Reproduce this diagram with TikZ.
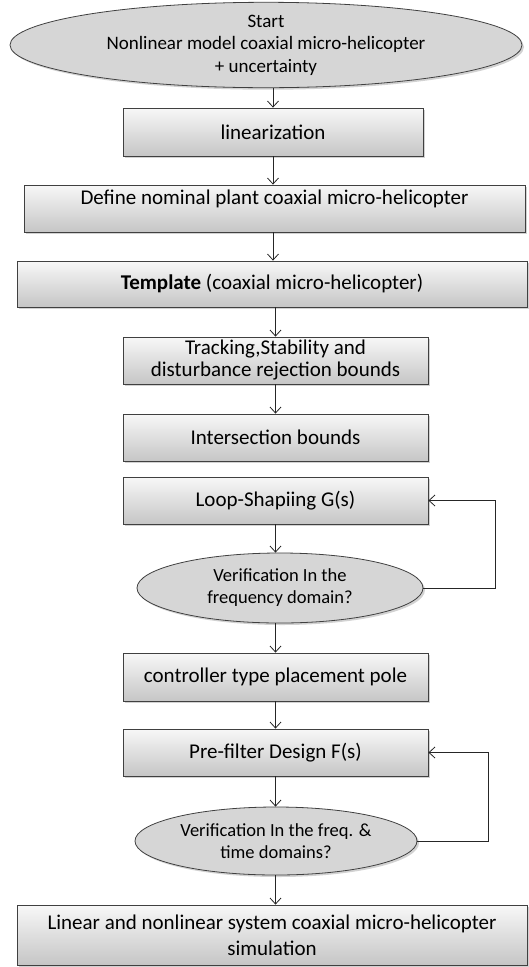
\documentclass[tikz,border=0pt]{standalone}
\usepackage{fontspec}
\setmainfont{Carlito}
\usetikzlibrary{shapes.geometric,arrows.meta,shadows}
\begin{document}
\begin{tikzpicture}[x=1pt,y=-1pt,
  boxstyle/.style={draw=black!75,line width=0.8pt,rectangle,inner sep=2pt,
    top color=gray!6,bottom color=gray!45,
    drop shadow={shadow xshift=2pt,shadow yshift=-2pt,fill=black!35},
    font=\fontsize{21}{24}\selectfont,align=center},
  ellstyle/.style={draw=black!75,line width=0.8pt,ellipse,inner sep=0pt,
    fill=gray!32,
    drop shadow={shadow xshift=2pt,shadow yshift=-2pt,fill=black!35},
    align=center},
  arr/.style={draw=black!85,line width=0.8pt,-{Straight Barb[length=6pt,width=11pt]}}]
\useasboundingbox (0,0) rectangle (529,967);

\node[ellstyle,minimum width=512pt,minimum height=72pt,font=\fontsize{19}{22.5}\selectfont] (start) at (266,45)
  {Start\\Nonlinear model coaxial micro-helicopter\\+ uncertainty};
\node[boxstyle,minimum width=300pt,minimum height=48pt] (lin) at (273,132) {linearization};
\node[boxstyle,minimum width=501pt,minimum height=47pt,text height=14pt,text depth=22pt] (def) at (274.5,208.5)
  {Define nominal plant coaxial micro-helicopter};
\node[boxstyle,minimum width=510pt,minimum height=46pt] (tmpl) at (272,284)
  {\textbf{Template} (coaxial micro-helicopter)};
\node[boxstyle,minimum width=305pt,minimum height=47pt,font=\fontsize{21}{22}\selectfont] (track) at (275.5,360.5)
  {Tracking,Stability and\\disturbance rejection bounds};
\node[boxstyle,minimum width=305pt,minimum height=47pt] (inter) at (275.5,437.5) {Intersection bounds};
\node[boxstyle,minimum width=305pt,minimum height=47pt] (loop) at (275.5,500.5) {Loop-Shapiing G(s)};
\node[ellstyle,minimum width=286pt,minimum height=70pt,font=\fontsize{18.5}{22}\selectfont] (ver1) at (280,588)
  {Verification In the\\frequency domain?};
\node[boxstyle,minimum width=305pt,minimum height=48pt] (ctrl) at (275.5,677) {controller type placement pole};
\node[boxstyle,minimum width=305pt,minimum height=47pt] (pre) at (275.5,752.5) {Pre-filter Design F(s)};
\node[ellstyle,minimum width=282pt,minimum height=68pt,font=\fontsize{18.5}{22}\selectfont] (ver2) at (276,841)
  {Verification In the freq. \&\\time domains?};
\node[boxstyle,minimum width=510pt,minimum height=60pt,font=\fontsize{21}{26}\selectfont] (final) at (272,935)
  {Linear and nonlinear system coaxial micro-helicopter\\simulation};

\draw[arr] (lin.north |- start.south) -- (lin.north);
\draw[arr] (lin.south) -- (lin.south |- def.north);
\draw[arr] (lin.south |- def.south) -- (lin.south |- tmpl.north);
\draw[arr] (track.north |- tmpl.south) -- (track.north);
\draw[arr] (track.south) -- (inter.north);
\draw[arr] (loop.south) -- (loop.south |- ver1.north);
\draw[arr] (loop.south |- ver1.south) -- (ctrl.north);
\draw[arr] (ctrl.south) -- (pre.north);
\draw[arr] (pre.south) -- (pre.south |- ver2.north);
\draw[arr] (pre.south |- ver2.south) -- (pre.south |- final.north);
\draw[arr] (ver1.east) -- (495,588) |- (loop.east);
\draw[arr] (ver2.east) -- (488,841) |- (pre.east);
\end{tikzpicture}
\end{document}
